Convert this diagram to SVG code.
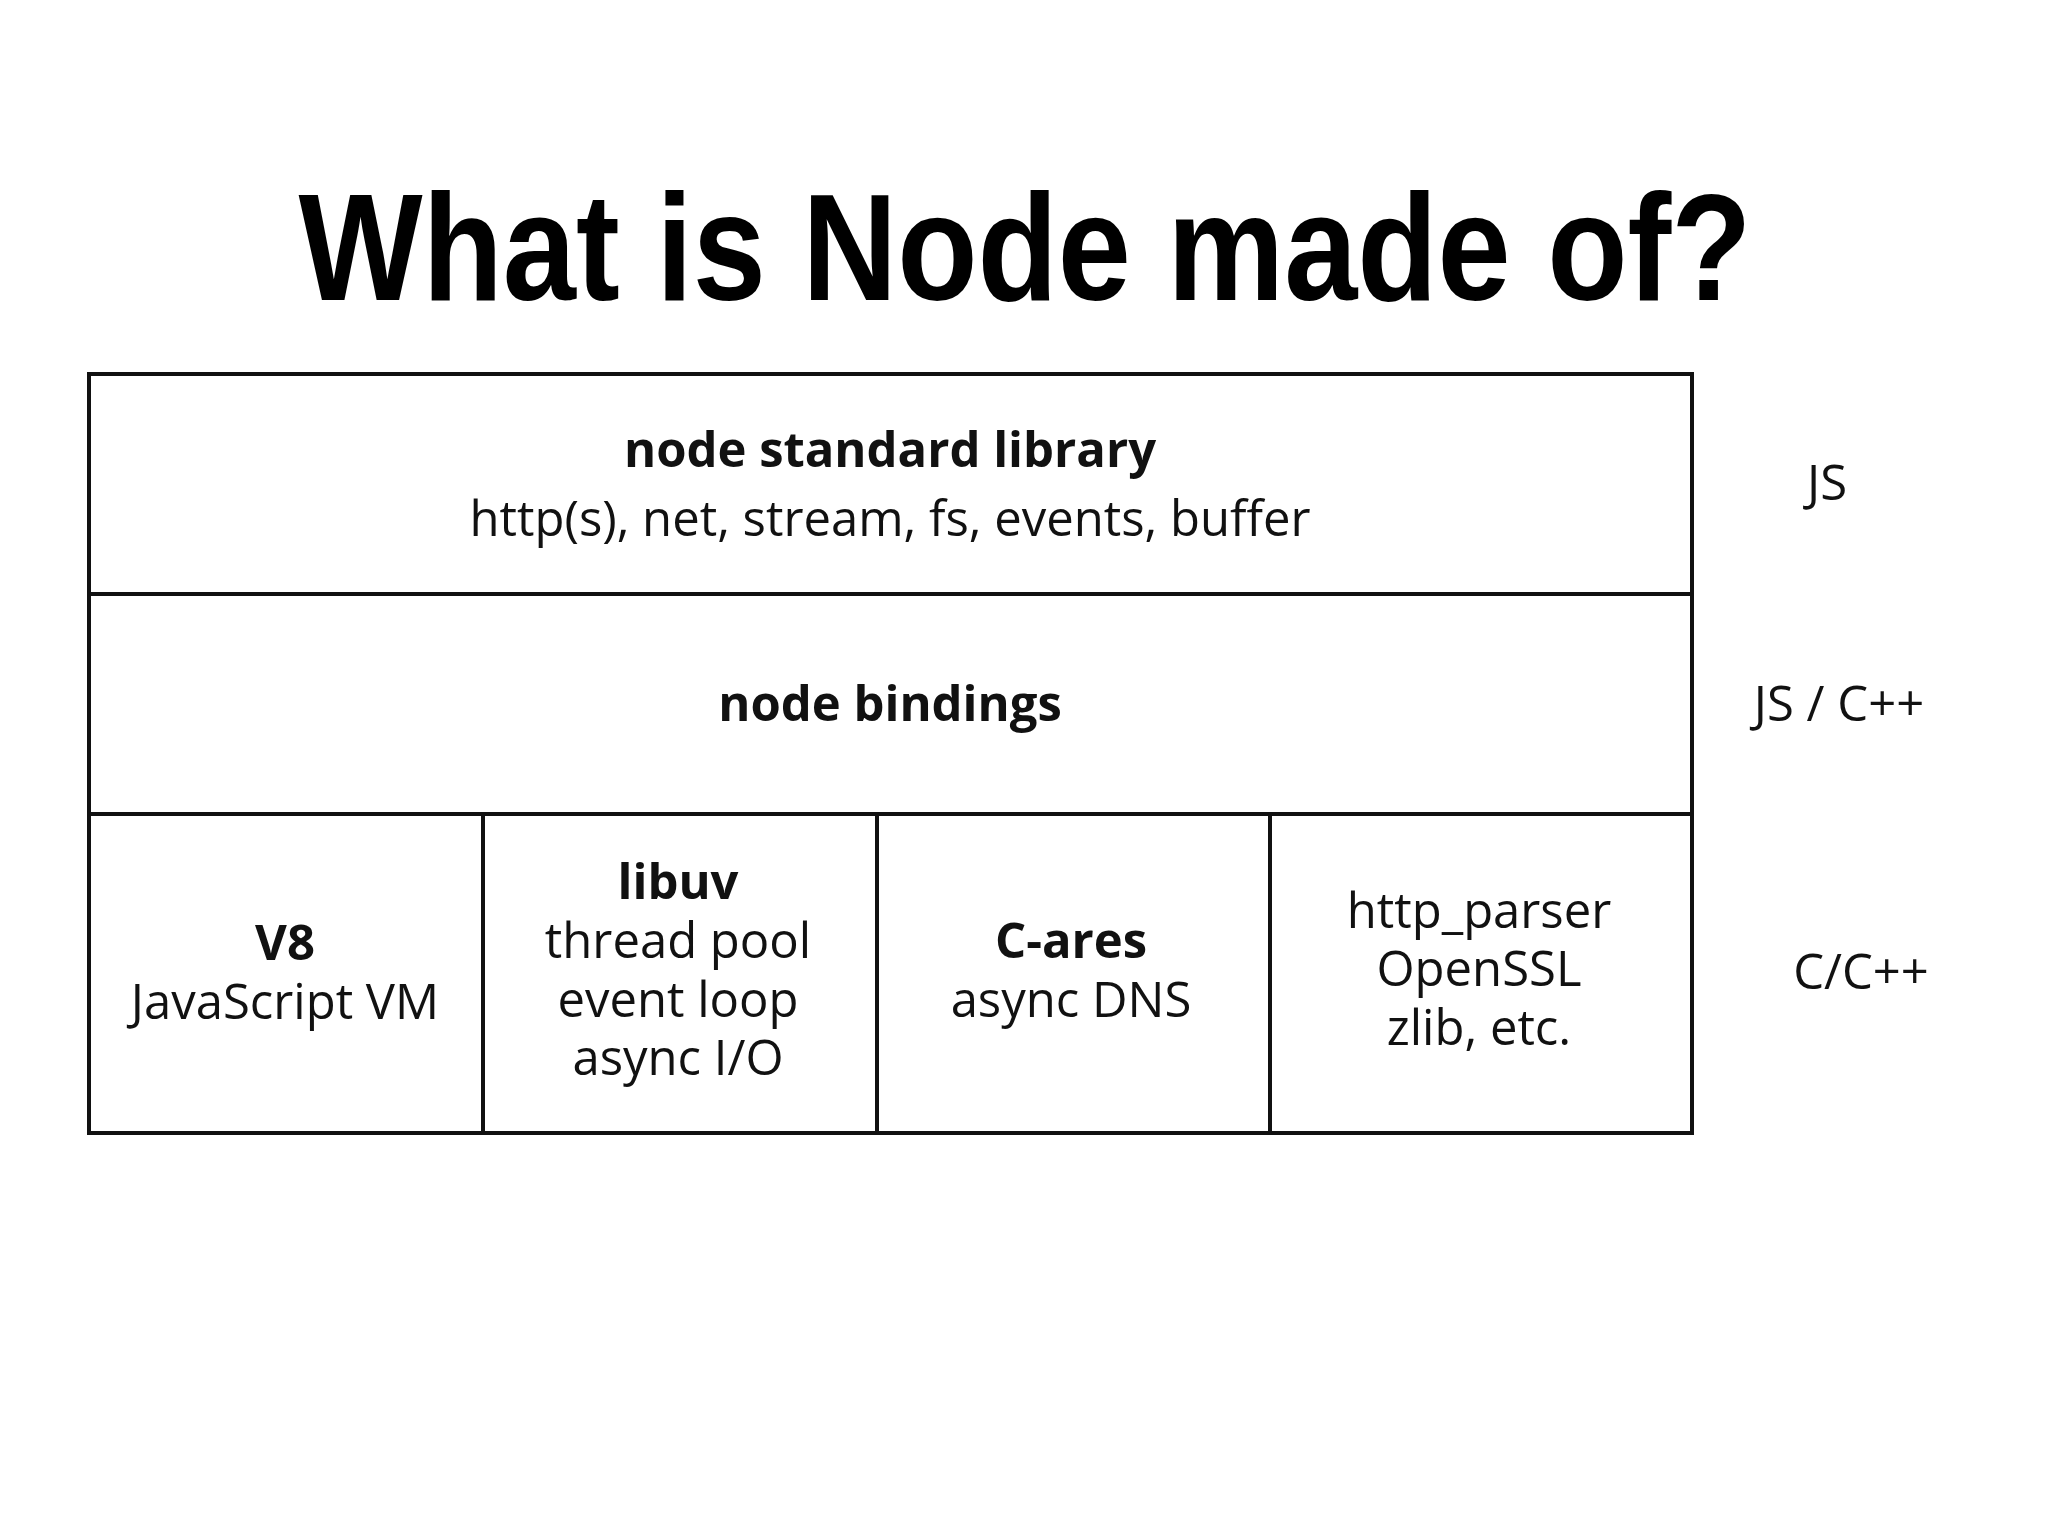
<svg xmlns="http://www.w3.org/2000/svg" width="2048" height="1536" viewBox="0 0 2048 1536">
<style>
.t{font-family:"Open Sans","Noto Sans",sans-serif;font-size:49px;fill:#111;text-anchor:middle}
.b{font-weight:bold}
.box{fill:none;stroke:#111;stroke-width:4}
</style>
<rect width="2048" height="1536" fill="#fff"/>
<text x="1025" y="300" font-family="'Liberation Sans Narrow','Liberation Sans',sans-serif" font-weight="bold" font-size="153" text-anchor="middle" textLength="1453" lengthAdjust="spacingAndGlyphs">What is Node made of?</text>
<g id="stdlib"><rect class="box" x="89" y="374" width="1603" height="220"/>
<text class="t b" x="890" y="467">node standard library</text>
<text class="t" x="890" y="536">http(s), net, stream, fs, events, buffer</text></g>
<g id="bindings"><rect class="box" x="89" y="594" width="1603" height="220"/>
<text class="t b" x="890" y="721">node bindings</text></g>
<g id="v8"><rect class="box" x="89" y="814" width="394" height="319"/>
<text class="t b" x="285" y="960">V8</text>
<text class="t" x="285" y="1019">JavaScript VM</text></g>
<g id="libuv"><rect class="box" x="483" y="814" width="394" height="319"/>
<text class="t b" x="678" y="899">libuv</text>
<text class="t" x="678" y="958">thread pool</text>
<text class="t" x="678" y="1017">event loop</text>
<text class="t" x="678" y="1075">async I/O</text></g>
<g id="cares"><rect class="box" x="877" y="814" width="393" height="319"/>
<text class="t b" x="1071" y="958">C-ares</text>
<text class="t" x="1071" y="1017">async DNS</text></g>
<g id="other"><rect class="box" x="1270" y="814" width="422" height="319"/>
<text class="t" x="1479" y="928">http_parser</text>
<text class="t" x="1479" y="986">OpenSSL</text>
<text class="t" x="1479" y="1045">zlib, etc.</text></g>
<g id="labels">
<text class="t" x="1827" y="500">JS</text>
<text class="t" x="1839" y="721">JS / C++</text>
<text class="t" x="1861" y="989">C/C++</text></g>
<g id="connectors"></g>
</svg>
